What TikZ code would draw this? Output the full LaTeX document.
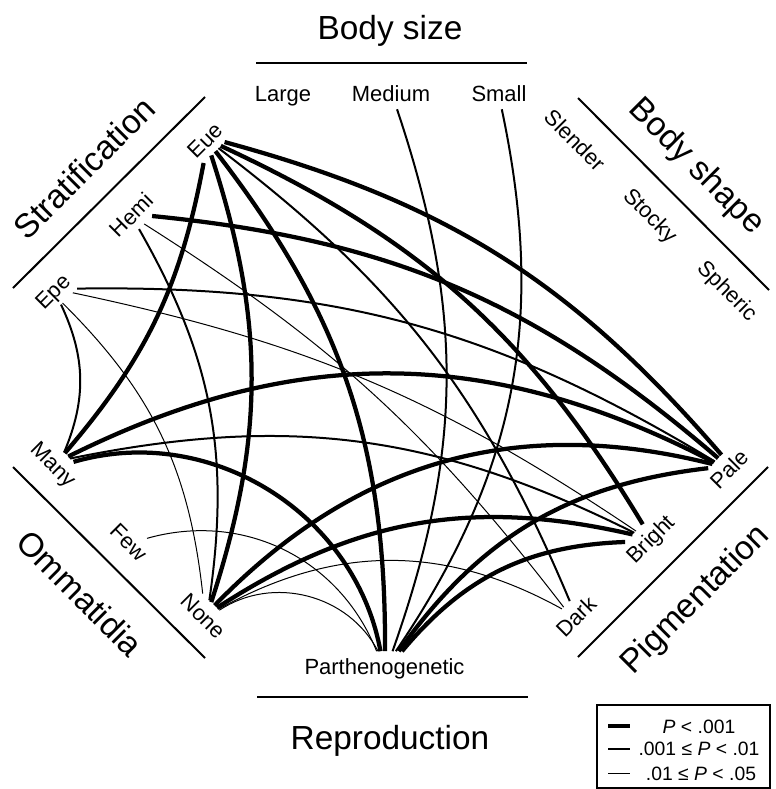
\documentclass[tikz,border=0pt]{standalone}
\usepackage{fontspec}
\setmainfont{Liberation Sans}
\usetikzlibrary{calc}
\tikzset{
  cat/.style={font=\fontsize{12.5}{15}\selectfont, inner sep=4pt,
              text height=9pt, text depth=0pt},
  grp/.style={font=\fontsize{19}{23}\selectfont, inner sep=0pt},
  sepline/.style={line width=0.4mm},
  pone/.style={line width=0.85mm},   % P < .001
  ptwo/.style={line width=0.4mm},    % .001 <= P < .01
  pthree/.style={line width=0.2mm},  % .01 <= P < .05
  legtxt/.style={font=\fontsize{11}{13}\selectfont, inner sep=0pt,
                 text height=8pt, text depth=0pt},
}

\begin{document}
\begin{tikzpicture}[x=0.2mm, y=-0.2mm]
  \path[use as bounding box] (0,0) rectangle (776,789);

  % group titles and rules
  \node[grp, anchor=base] (bsize) at (390,39) {Body size};
  \node[grp, rotate=-45] (bshape) at (696,167) {Body shape};
  \node[grp, rotate=45] (pigm) at (696,600) {Pigmentation};
  \node[grp, anchor=base] (repro) at (390,749) {Reproduction};
  \node[grp, rotate=-45] (ommat) at (80,593) {Ommatidia};
  \node[grp, rotate=45] (strat) at (84,168) {Stratification};
  \draw[sepline] (256,63) -- (527,63);
  \draw[sepline] (578,98) -- (769,290);
  \draw[sepline] (578,657) -- (768,467);
  \draw[sepline] (257,697) -- (528,697);
  \draw[sepline] (13,467) -- (205,658);
  \draw[sepline] (13,288) -- (205,97);

  % categories
  \node[cat] (large) at (283,94) {Large};
  \node[cat] (medium) at (391,94) {Medium};
  \node[cat] (small) at (499,94) {Small};
  \node[cat, rotate=-45] (slender) at (575,140) {Slender};
  \node[cat, rotate=-45] (stocky) at (651,215) {Stocky};
  \node[cat, rotate=-45] (spheric) at (728,290) {Spheric};
  \node[cat, rotate=45] (pale) at (729,469) {Pale};
  \node[cat, rotate=45] (bright) at (650.2,538.5) {Bright};
  \node[cat, rotate=45] (dark) at (575.8,616.7) {Dark};
  \node[cat] (parth) at (384.5,666.5) {Parthenogenetic};
  \node[cat, rotate=-45] (none) at (203.3,615.8) {None};
  \node[cat, rotate=-45] (few) at (129,542) {Few};
  \node[cat, rotate=-45] (many) at (54,464) {Many};
  \node[cat, rotate=45] (epe) at (52.5,291.5) {Epe};
  \node[cat, rotate=45] (hemi) at (131.5,215) {Hemi};
  \node[cat, rotate=45] (eue) at (205,140) {Eue};

  % associations
  \draw[pone] ($(eue.south west)!.18!(eue.south east)$) to[bend left=15] ($(many.north west)!.50!(many.north east)$);
  \draw[pone] ($(eue.south west)!.38!(eue.south east)$) to[bend left=18] ($(none.north west)!.44!(none.north east)$);
  \draw[pone] ($(eue.south west)!.49!(eue.south east)$) to[bend left=19] ($(parth.north west)!.503!(parth.north east)$);
  \draw[ptwo] ($(eue.south west)!.57!(eue.south east)$) to[bend left=15] ($(dark.north west)!.61!(dark.north east)$);
  \draw[pone] ($(eue.south west)!.63!(eue.south east)$) to[bend left=17] ($(bright.north west)!.566!(bright.north east)$);
  \draw[pone] ($(eue.south west)!.73!(eue.south east)$) to[bend left=17] ($(pale.north west)!.58!(pale.north east)$);

  \draw[pone] ($(hemi.south west)!.71!(hemi.south east)$) to[bend left=17.5] ($(pale.north west)!.50!(pale.north east)$);
  \draw[pthree] ($(hemi.south west)!.54!(hemi.south east)$) to[bend left=10] ($(dark.north west)!.47!(dark.north east)$);
  \draw[ptwo] ($(hemi.south west)!.43!(hemi.south east)$) to[bend left=19] ($(none.north west)!.40!(none.north east)$);

  \draw[ptwo] ($(epe.south west)!.44!(epe.south east)$) to[bend left=24] ($(many.north west)!.485!(many.north east)$);
  \draw[pthree] ($(epe.south west)!.48!(epe.south east)$) to[bend left=19.5] ($(none.north west)!.26!(none.north east)$);
  \draw[ptwo] ($(epe.south west)!.86!(epe.south east)$) to[bend left=16] ($(pale.north west)!.42!(pale.north east)$);
  \draw[pthree] ($(epe.south west)!.75!(epe.south east)$) to[bend left=11] ($(bright.north west)!.434!(bright.north east)$);

  \draw[pone] ($(many.north west)!.57!(many.north east)$) to[bend left=27] ($(pale.north west)!.40!(pale.north east)$);
  \draw[ptwo] ($(many.north west)!.61!(many.north east)$) to[bend left=19] ($(bright.north west)!.40!(bright.north east)$);
  \draw[pone] ($(many.north west)!.68!(many.north east)$) to[bend left=48] ($(parth.north west)!.477!(parth.north east)$);
  \draw[pthree] ($(few.north west)!.68!(few.north east)$) to[bend left=42] ($(parth.north west)!.455!(parth.north east)$);

  \draw[pone] ($(none.north west)!.51!(none.north east)$) to[bend left=30] ($(pale.north west)!.36!(pale.north east)$);
  \draw[pone] ($(none.north west)!.56!(none.north east)$) to[bend left=23] ($(bright.north west)!.367!(bright.north east)$);
  \draw[pthree] ($(none.north west)!.59!(none.north east)$) to[bend left=29] ($(dark.north west)!.43!(dark.north east)$);
  \draw[pthree] ($(none.north west)!.61!(none.north east)$) to[bend left=48] ($(parth.north west)!.463!(parth.north east)$);

  \draw[ptwo] ($(medium.south west)!.565!(medium.south east)$) to[bend left=19] ($(parth.north west)!.546!(parth.north east)$);
  \draw[ptwo] ($(small.south west)!.54!(small.south east)$) to[bend left=23] ($(parth.north west)!.565!(parth.north east)$);
  \draw[pone] ($(parth.north west)!.582!(parth.north east)$) to[bend left=24] ($(pale.north west)!.26!(pale.north east)$);
  \draw[pone] ($(parth.north west)!.60!(parth.north east)$) to[bend left=24] ($(bright.north west)!.22!(bright.north east)$);

  % key
  \draw[line width=0.3mm] (597,705) rectangle (770,788);
  \draw[pone] (608,726) -- (630,726);
  \node[legtxt] (key1) at (699,726) {\textit{P} < .001};
  \draw[ptwo] (608,748.5) -- (630,748.5);
  \node[legtxt] (key2) at (699,748.5) {.001 ≤ \textit{P} < .01};
  \draw[pthree] (608,773) -- (630,773);
  \node[legtxt] (key3) at (701,773) {.01 ≤ \textit{P} < .05};
\end{tikzpicture}
\end{document}
